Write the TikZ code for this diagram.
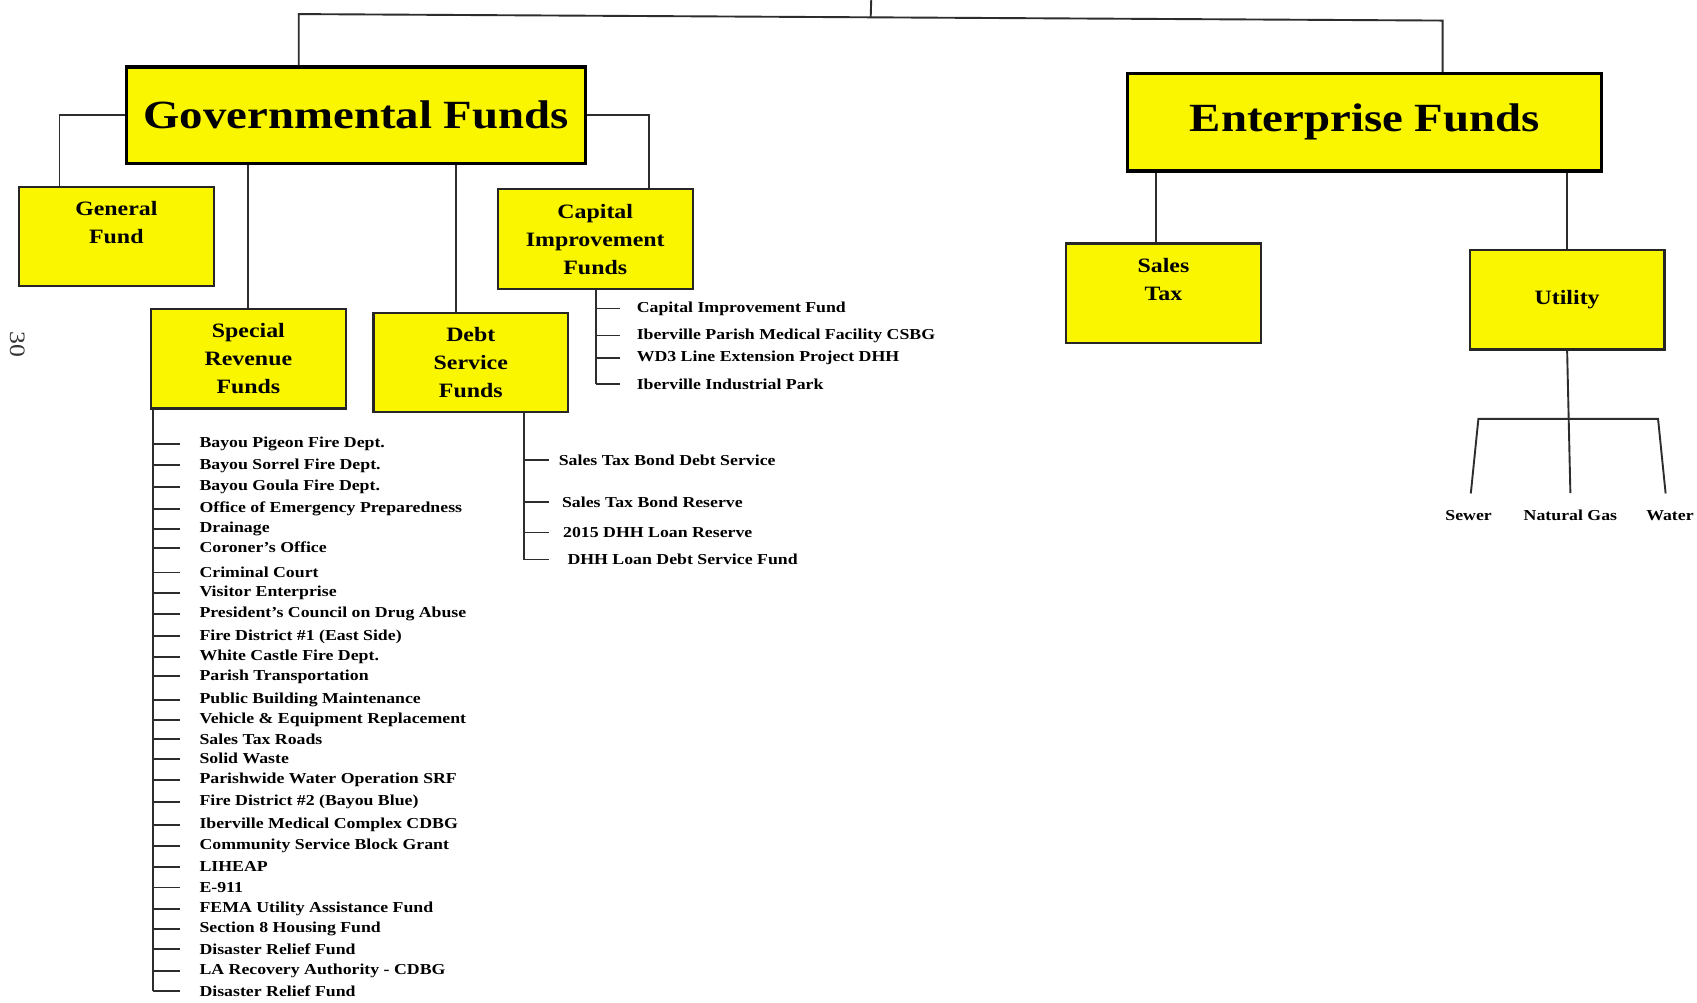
\documentclass[tikz,border=0pt]{standalone}
\usepackage{fontspec}
\setmainfont{Liberation Serif}[FakeStretch=1.17]
\usetikzlibrary{calc}
\definecolor{fundyellow}{RGB}{250,246,0}
\definecolor{linec}{RGB}{45,45,45}
\begin{document}
\begin{tikzpicture}[x=0.5412pt, y=-0.5412pt,
  conn/.style={draw=linec, line width=0.95pt},
  bigbox/.style={draw=black, line width=1.6pt, fill=fundyellow, inner sep=0pt,
    font=\bfseries\fontsize{20}{24}\selectfont},
  fundbox/.style={draw=black!85, line width=1.1pt, fill=fundyellow, inner sep=0pt,
    minimum width=97.4pt, minimum height=49.8pt, align=center,
    font=\bfseries\fontsize{10.2}{14}\selectfont},
  item/.style={anchor=west, inner sep=0pt, font=\bfseries\fontsize{7.6}{9}\selectfont},
  pagenum/.style={inner sep=0pt, rotate=-90, font=\fontsize{11}{13}\selectfont, text=black!80}]

\fill[white] (0,0) rectangle (1568,926);
\useasboundingbox (0,0) rectangle (1568,926);

% main boxes
\node[bigbox, minimum width=229.5pt, minimum height=48.2pt] (gov) at (329,106.5) {Governmental Funds};
\node[bigbox, minimum width=237pt, minimum height=48.7pt] (ent) at (1261,113) {Enterprise Funds};

% sub boxes
\node[fundbox] (gen) at (107.5,218.5) {General\\Fund\\~};
\node[fundbox] (cap) at (550,221) {Capital\\Improvement\\Funds};
\node[fundbox] (spec) at (229.5,331.5) {Special\\Revenue\\Funds};
\node[fundbox] (debt) at (435,335) {Debt\\Service\\Funds};
\node[fundbox] (sales) at (1075,271) {Sales\\Tax\\~};
\node[fundbox] (util) at (1448,277) {Utility};

% top connector
\coordinate (tt) at (805,0);
\coordinate (tl) at (276,13);
\coordinate (tr) at (1333,19);
\draw[conn] (tl |- gov.north) -- (tl) -- (tr) -- (tr |- ent.north);
\draw[conn] (tt) -- ($(tl)!0.5!(tr)$);

% governmental connectors
\coordinate (gl) at (55,0);
\coordinate (gr) at (600,0);
\coordinate (gd) at (421,0);
\draw[conn] (gov.west) -| (gl |- gen.north);
\draw[conn] (gov.east) -| (gr |- cap.north);
\draw[conn] (spec.north |- gov.south) -- (spec.north);
\draw[conn] (gd |- gov.south) -- (gd |- debt.north);

% enterprise connectors
\coordinate (se) at (1068,0);
\draw[conn] (se |- ent.south) -- (se |- sales.north);
\draw[conn] (util.north |- ent.south) -- (util.north);

% utility branches
\node[item, anchor=center] (sewer) at (1357,476) {Sewer};
\node[item, anchor=center] (gas) at (1451,476) {Natural Gas};
\node[item, anchor=center] (water) at (1543,476) {Water};
\coordinate (bl) at (1366,387);
\coordinate (br) at (1532,387);
\draw[conn] (util.south) -- ($(gas.north)+(0,-15)$);
\draw[conn] ($(sewer.north)+(2,-15)$) -- (bl) -- (br) -- ($(water.north)+(-4,-15)$);

% special revenue list
\coordinate (spA) at (141,0);
\foreach \yy/\lbl [count=\i] in {
  410/Bayou Pigeon Fire Dept.,
  430/Bayou Sorrel Fire Dept.,
  450/Bayou Goula Fire Dept.,
  470/Office of Emergency Preparedness,
  489/Drainage,
  506/Coroner's Office,
  529/Criminal Court,
  548/Visitor Enterprise,
  567/President's Council on Drug Abuse,
  588/Fire District \#1 (East Side),
  607/White Castle Fire Dept.,
  625/Parish Transportation,
  647/Public Building Maintenance,
  665/Vehicle \& Equipment Replacement,
  683/Sales Tax Roads,
  701/Solid Waste,
  721/Parishwide Water Operation SRF,
  741/Fire District \#2 (Bayou Blue),
  762/Iberville Medical Complex CDBG,
  782/Community Service Block Grant,
  801/LIHEAP,
  820/E-911,
  840/FEMA Utility Assistance Fund,
  858/Section 8 Housing Fund,
  877/Disaster Relief Fund,
  897/LA Recovery Authority - CDBG,
  916/Disaster Relief Fund}{
  \node[item] (sr\i) at (184,\yy) {\lbl};
  \draw[conn] (spA |- sr\i.west) -- ($(sr\i.west)+(-18,0)$);
}
\draw[conn] (spA |- spec.south) -- (spA |- sr27.west);

% capital improvement list
\coordinate (spC) at (551,0);
\foreach \yy/\lbl [count=\i] in {
  285/Capital Improvement Fund,
  310/Iberville Parish Medical Facility CSBG,
  331/WD3 Line Extension Project DHH,
  355/Iberville Industrial Park}{
  \node[item] (ci\i) at (588,\yy) {\lbl};
  \draw[conn] (spC |- ci\i.west) -- ($(ci\i.west)+(-15,0)$);
}
\draw[conn] (spC |- cap.south) -- (spC |- ci4.west);

% debt service list
\coordinate (spD) at (484,0);
\foreach \xx/\yy/\lbl [count=\i] in {
  516/425/Sales Tax Bond Debt Service,
  519/464/Sales Tax Bond Reserve,
  520/492/2015 DHH Loan Reserve,
  524/517/DHH Loan Debt Service Fund}{
  \node[item] (ds\i) at (\xx,\yy) {\lbl};
  \draw[conn] (spD |- ds\i.west) -- (507,\yy);
}
\draw[conn] (spD |- debt.south) -- (spD |- ds4.west);

% page number
\node[pagenum] (pg) at (16,318) {30};
\end{tikzpicture}
\end{document}
